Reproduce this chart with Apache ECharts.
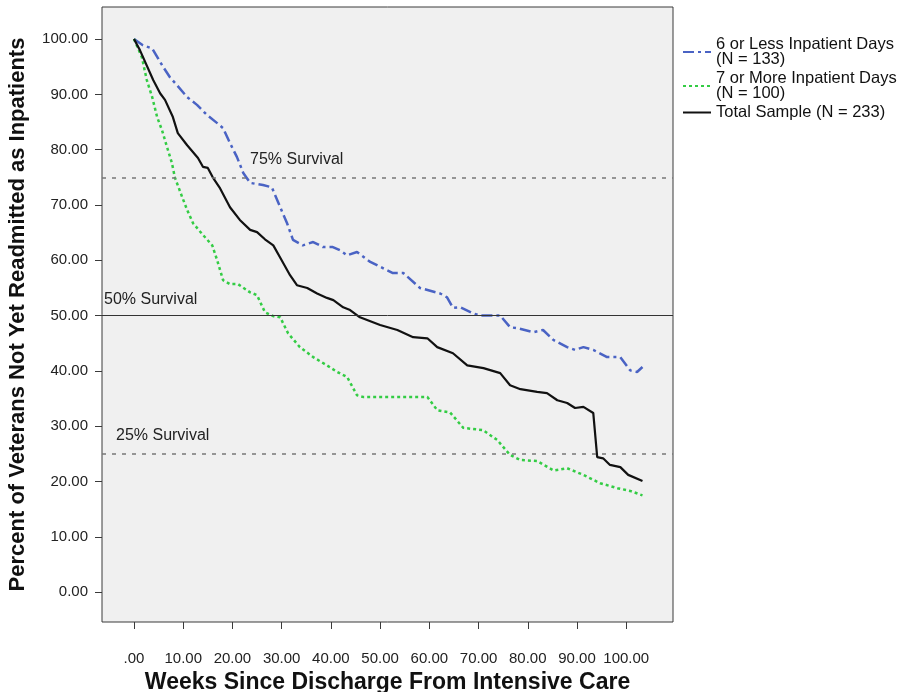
<!DOCTYPE html>
<html>
<head>
<meta charset="utf-8">
<script src="https://cdn.jsdelivr.net/npm/echarts@6/dist/echarts.min.js"></script>
<style>
html, body { margin: 0; padding: 0; background: #fff; }
#main { width: 901px; height: 692px; }
</style>
</head>
<body>
<div id="main"></div>
<script>
// week ticks and percent ticks
var xTicks = [0, 10, 20, 30, 40, 50, 60, 70, 80, 90, 100];
var yTicks = [0, 10, 20, 30, 40, 50, 60, 70, 80, 90, 100];

// 6 or less inpatient days
var lessX = [0,1.8,3.7,5.9,7.3,8.7,10.8,12.8,14.8,16.9,18.1,19.5,20.9,22.2,23.6,26.2,28,29.7,31.1,32.3,34.3,36.4,38.4,40.4,41.9,43.3,45.3,48,52.6,54.7,58.1,62.2,63.6,64.8,66.3,68.9,70.3,74.4,76.4,78,81.1,83.1,85.2,88,89.6,91.3,93.3,96.1,98.8,100.8,102.2,103.3];
var lessY = [100,98.9,98.3,95,93.1,91.7,89.5,88.1,86.3,84.8,83.9,81.2,78.7,75.8,74,73.6,73.2,69.6,66.7,63.7,62.7,63.3,62.4,62.4,61.8,60.9,61.5,59.7,57.7,57.7,55,54,53.3,51.4,51.5,50.4,50,50,47.9,47.7,47,47.4,45.6,44.3,43.8,44.3,43.8,42.5,42.5,40.1,39.8,40.7];

// 7 or more inpatient days
var moreX = [0,1.6,2.6,3.7,4.7,5.7,6.7,7.7,8.3,9.8,10.8,12,14,15.9,16.9,18.1,19.5,21.1,23.6,25,26.6,28.3,29.7,31.3,33.7,36.4,39.2,41.3,43.3,45.3,46.5,59.6,61.6,64.2,66.9,70.9,73.8,76.4,78.5,81.9,85.2,88,91.3,94.7,98.2,100.8,103.3];
var moreY = [100,96.7,92.6,89.5,85.9,83.5,80.5,77.6,75,71.4,69.1,66.7,64.6,62.7,60,56.4,55.7,55.7,54.2,53.7,50.6,49.9,49.7,46.8,44.3,42.5,41,39.8,38.9,35.6,35.3,35.3,32.9,32.5,29.7,29.3,27.5,24.8,23.9,23.7,22,22.4,21.2,19.7,18.8,18.3,17.5];

// total sample
var totalX = [0,1.2,3.9,5.3,6.3,7.9,8.9,10.8,13,14,15,16,17.5,19.5,21.5,23.6,25,26.6,28.3,30,31.7,33.1,35.2,37.2,39.2,40.5,42.5,43.9,45.9,50,53.5,56.7,59.6,61.6,64.8,67.7,71,74.4,76.4,78.5,81.9,83.9,86,88,89.6,91.3,93.3,94.1,95.3,96.7,98.8,100.4,103.3];
var totalY = [100,98,92.6,90.2,89,85.9,83,80.8,78.5,76.9,76.7,75,73,69.6,67.3,65.5,65.1,63.8,62.7,60,57.3,55.5,55,54,53.2,52.8,51.5,51,49.7,48.3,47.4,46.1,45.9,44.3,43.2,41,40.5,39.6,37.4,36.7,36.2,36,34.7,34.2,33.3,33.5,32.4,24.4,24.2,23,22.6,21.2,20.1];

var survival = [75, 50, 25];
var survivalNames = ['75% Survival', '50% Survival', '25% Survival'];

function pairs(xs, ys) {
	var out = [];
	for (var i = 0; i < xs.length; i++) out.push([xs[i], ys[i]]);
	return out;
}

var font = 'Liberation Sans, Arial, sans-serif';

var chart = echarts.init(document.getElementById('main'));
chart.setOption({
	animation: false,
	textStyle: { fontFamily: font },
	grid: {
		left: 102, top: 7, right: 228, bottom: 70,
		outerBoundsMode: 'none', containLabel: false,
		show: true, backgroundColor: '#f0f0f0', borderColor: '#3a3a3a', borderWidth: 1
	},
	legend: {
		orient: 'vertical', left: 677, top: 31,
		itemWidth: 28, itemHeight: 10, itemGap: 2,
		itemStyle: { opacity: 0 },
		textStyle: { fontSize: 16.5, color: '#111', lineHeight: 15, fontFamily: font },
		data: ['6 or Less Inpatient Days\n(N = 133)', '7 or More Inpatient Days\n(N = 100)', 'Total Sample (N = 233)']
	},
	xAxis: {
		type: 'value', min: -6.5, max: 109.5,
		splitLine: { show: false },
		axisLine: { show: false, onZero: false },
		axisTick: { show: true, length: 7, lineStyle: { color: '#3a3a3a' }, customValues: xTicks },
		axisLabel: {
			customValues: xTicks, margin: 29, fontSize: 15, color: '#222',
			formatter: function (v) { return v === 0 ? '.00' : v.toFixed(2); }
		},
		name: 'Weeks Since Discharge From Intensive Care',
		nameLocation: 'middle', nameGap: 49, nameMoveOverlap: false,
		nameTextStyle: { fontSize: 23, fontWeight: 'bold', color: '#111' }
	},
	yAxis: {
		type: 'value', min: -5.4, max: 105.8,
		splitLine: { show: false },
		axisLine: { show: false, onZero: false },
		axisTick: { show: true, length: 7, lineStyle: { color: '#3a3a3a' }, customValues: yTicks },
		axisLabel: {
			customValues: yTicks, margin: 14, fontSize: 15, color: '#222',
			formatter: function (v) { return v.toFixed(2); }
		},
		name: 'Percent of Veterans Not Yet Readmitted as Inpatients',
		nameLocation: 'middle', nameGap: 73, nameMoveOverlap: false,
		nameTextStyle: { fontSize: 22, fontWeight: 'bold', color: '#111' }
	},
	series: [
		{
			name: '6 or Less Inpatient Days\n(N = 133)', type: 'line', showSymbol: false, symbol: 'none',
			data: pairs(lessX, lessY),
			lineStyle: { color: '#4a63c4', width: 2.5, type: [11, 4, 3, 4] },
			itemStyle: { color: '#4a63c4' },
			z: 3
		},
		{
			name: '7 or More Inpatient Days\n(N = 100)', type: 'line', showSymbol: false, symbol: 'none',
			data: pairs(moreX, moreY),
			lineStyle: { color: '#33cc44', width: 2.5, type: [3, 3] },
			itemStyle: { color: '#33cc44' },
			z: 3
		},
		{
			name: 'Total Sample (N = 233)', type: 'line', showSymbol: false, symbol: 'none',
			data: pairs(totalX, totalY),
			lineStyle: { color: '#111', width: 2.2 },
			itemStyle: { color: '#111' },
			z: 4,
			markLine: {
				silent: true, symbol: 'none',
				data: [
					{
						yAxis: survival[0],
						lineStyle: { color: '#777', width: 1.5, type: [4, 6] },
						label: { formatter: survivalNames[0], position: 'insideStartTop', distance: [148, 10] }
					},
					{
						yAxis: survival[1],
						lineStyle: { color: '#333', width: 1, type: 'solid' },
						label: { formatter: survivalNames[1], position: 'insideStartTop', distance: [2, 8] }
					},
					{
						yAxis: survival[2],
						lineStyle: { color: '#777', width: 1.5, type: [4, 6] },
						label: { formatter: survivalNames[2], position: 'insideStartTop', distance: [14, 10] }
					}
				],
				label: { fontSize: 16, color: '#222', fontFamily: font }
			}
		}
	]
});
</script>
</body>
</html>
